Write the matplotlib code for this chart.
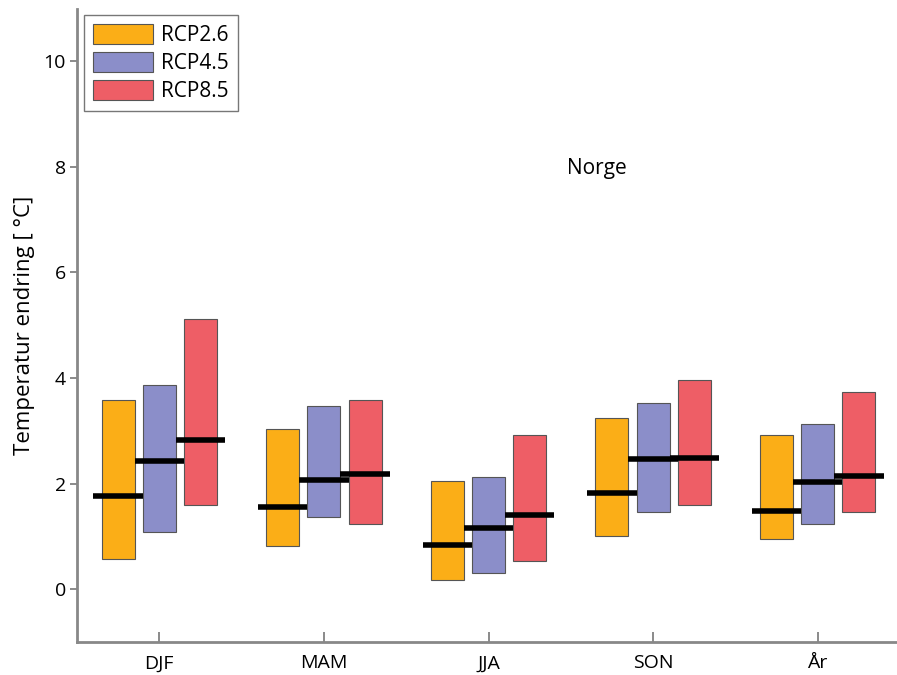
import numpy as np
import matplotlib.pyplot as plt

plt.rcParams["font.family"] = ["Open Sans", "DejaVu Sans"]

# sesonger og scenarier
seasons = ["DJF", "MAM", "JJA", "SON", "År"]
scenarios = ["RCP2.6", "RCP4.5", "RCP8.5"]
colors = ["#FBAE17", "#8B8EC9", "#EE5E66"]

# nedre / øvre grense og median for hvert scenario
low = {
    "RCP2.6": [0.58, 0.82, 0.17, 1.01, 0.96],
    "RCP4.5": [1.09, 1.37, 0.30, 1.46, 1.24],
    "RCP8.5": [1.60, 1.23, 0.53, 1.59, 1.47],
}
high = {
    "RCP2.6": [3.59, 3.03, 2.05, 3.24, 2.92],
    "RCP4.5": [3.86, 3.47, 2.13, 3.52, 3.13],
    "RCP8.5": [5.11, 3.58, 2.92, 3.96, 3.73],
}
median = {
    "RCP2.6": [1.76, 1.55, 0.83, 1.83, 1.49],
    "RCP4.5": [2.42, 2.06, 1.15, 2.46, 2.03],
    "RCP8.5": [2.82, 2.18, 1.41, 2.48, 2.14],
}

fig = plt.figure(figsize=(8.97, 6.75), dpi=100)
ax = fig.add_axes([77 / 897, 33 / 675, 820 / 897, 633.5 / 675])

x = np.arange(1, len(seasons) + 1)
offsets = [-0.25, 0.0, 0.25]
bar_w = 0.2
med_w = 0.3

for sc, off, col in zip(scenarios, offsets, colors):
    lo = np.array(low[sc])
    hi = np.array(high[sc])
    ax.bar(x + off, hi - lo, bottom=lo, width=bar_w, color=col,
           edgecolor="#555555", linewidth=0.8, label=sc, zorder=2)

for sc, off in zip(scenarios, offsets):
    ax.hlines(median[sc], x + off - med_w / 2, x + off + med_w / 2,
              color="black", linewidth=4, zorder=3)

ax.set_xlim(0.5, 0.5 + 820 / 164.6)
ax.set_ylim(-1, 11)
ax.set_xticks(x)
ax.set_xticklabels(seasons)
ax.set_yticks([0, 2, 4, 6, 8, 10])
ax.tick_params(axis="x", direction="in", length=7, width=1.2, color="#777777",
               labelsize=14, pad=9)
ax.tick_params(axis="y", direction="out", length=5, width=1.2, color="#777777",
               labelsize=14, pad=3)
ax.spines["top"].set_visible(False)
ax.spines["right"].set_visible(False)
for s in ["left", "bottom"]:
    ax.spines[s].set_color("#888888")
    ax.spines[s].set_linewidth(2)

ax.set_ylabel("Temperatur endring [ °C]", fontsize=16, labelpad=6)
ax.text(3.66, 7.97, "Norge", fontsize=15, ha="center", va="center")

leg = ax.legend(loc="upper left", bbox_to_anchor=(0.008, 0.99), fontsize=15,
                handlelength=2.9, handleheight=1.05, handletextpad=0.35,
                labelspacing=0.3, borderpad=0.45, fancybox=False,
                framealpha=1, borderaxespad=0)
leg.get_frame().set_edgecolor("#777777")
leg.get_frame().set_linewidth(1)

plt.savefig("out.png", dpi=100)
